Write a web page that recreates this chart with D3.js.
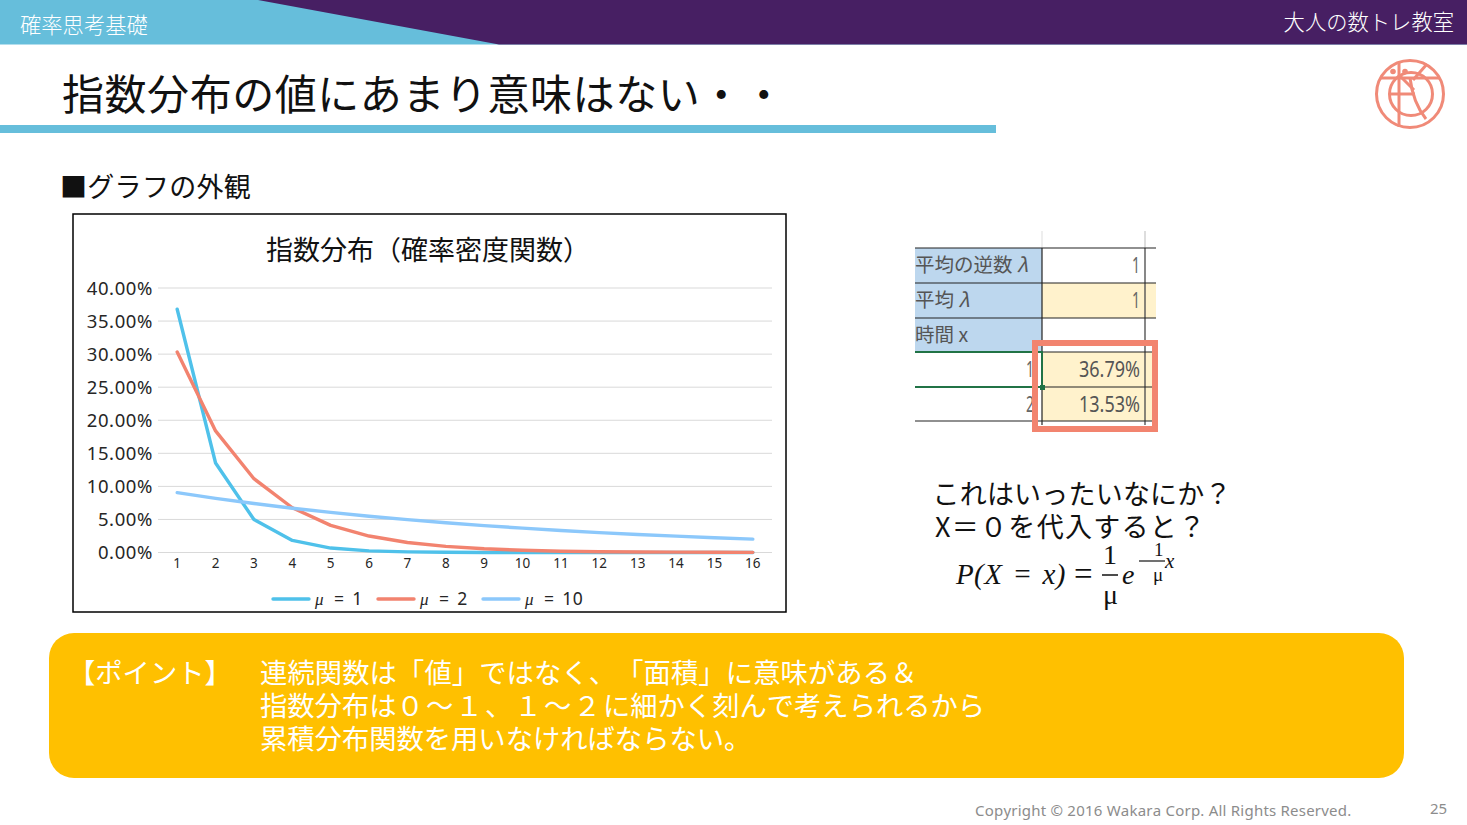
<!DOCTYPE html>
<html lang="ja">
<head>
<meta charset="utf-8">
<title>指数分布の値にあまり意味はない</title>
<script src="https://cdn.jsdelivr.net/npm/d3@7/dist/d3.min.js"></script>
<style>
html,body{margin:0;padding:0;background:#fff;overflow:hidden}
svg{display:block}
text{font-family:"Noto Sans CJK JP","Noto Sans",sans-serif;text-spacing-trim:space-all;font-kerning:none}
.axis path,.axis line{display:none}
</style>
</head>
<body>
<svg id="slide" width="1467" height="825"></svg>
<script>
// Chart data: density in percent per time step
const steps = d3.range(1, 17);
const muOne = [36.79,13.53,4.98,1.83,0.67,0.25,0.09,0.03,0.01,0.00,0.00,0.00,0.00,0.00,0.00,0.00];
const muTwo = [30.33,18.39,11.16,6.77,4.10,2.49,1.51,0.92,0.56,0.34,0.20,0.12,0.07,0.05,0.03,0.02];
const muTen = [9.05,8.19,7.41,6.70,6.07,5.49,4.97,4.49,4.07,3.68,3.33,3.01,2.73,2.47,2.23,2.02];
const seriesNames = ["= 1", "= 2", "= 10"];
const seriesColors = ["#4fc1ea", "#f2836f", "#8cc8fb"];
const yTicks = [0,5,10,15,20,25,30,35,40];

const ink = "#111", teal = "#66bedb", purple = "#471f63", salmon = "#f08a78", gold = "#ffc000";
const latin = '"Noto Sans",sans-serif';
const svg = d3.select("#slide");

function label(parent, x, y, str, size, fill, anchor) {
  return parent.append("text").attr("x", x).attr("y", y).attr("font-size", size)
    .attr("fill", fill || ink).attr("text-anchor", anchor || "start").text(str);
}
const poly = pts => "M" + pts.map(p => p.join(",")).join("L") + "Z";

// Header band and title rule
svg.append("rect").attr("width", 1467).attr("height", 44.5).attr("fill", teal);
svg.append("path").attr("d", poly([[258,0],[1467,0],[1467,44.5],[499,44.5]])).attr("fill", purple);
svg.append("rect").attr("y", 125).attr("width", 996).attr("height", 8).attr("fill", teal);
label(svg, 20, 33, "確率思考基礎", 21.3, "#fff").attr("font-weight", 300);
label(svg, 1454, 30, "大人の数トレ教室", 21.3, "#fff", "end").attr("font-weight", 300);
label(svg, 62, 110, "指数分布の値にあまり意味はない・・", 42).attr("letter-spacing", 0.55);
label(svg, 60, 197, "■グラフの外観", 27).attr("letter-spacing", 0.3);

// Logo mark
const logo = svg.append("g").attr("fill", "none").attr("stroke", salmon).attr("stroke-width", 3);
logo.append("circle").attr("cx", 1410).attr("cy", 94).attr("r", 33.5);
logo.append("circle").attr("cx", 1411).attr("cy", 94).attr("r", 21.5);
[[1399,62,1399,127],[1380,78,1440,78],[1390,94,1415,94],[1427,64,1413,80],[1400,76,1414,90]].forEach(s =>
  logo.append("line").attr("x1", s[0]).attr("y1", s[1]).attr("x2", s[2]).attr("y2", s[3]));
logo.append("path").attr("d", "M1410,78Q1413,103,1426,119");
[1393,1405].forEach(cx =>
  svg.append("circle").attr("cx", cx).attr("cy", 71.5).attr("r", 2.8).attr("fill", salmon));

// Chart frame
svg.append("rect").attr("x", 73).attr("y", 214).attr("width", 713).attr("height", 398)
  .attr("fill", "#fff").attr("stroke", "#000").attr("stroke-width", 1.5);
label(svg, 266, 260, "指数分布（確率密度関数）", 27);

const x = d3.scaleBand().domain(steps).range([158, 772]);
const y = d3.scaleLinear().domain([0, 40]).range([552.5, 288]);

svg.append("g").selectAll("line").data(yTicks).join("line")
  .attr("x1", 158).attr("x2", 772)
  .attr("y1", d => y(d)).attr("y2", d => y(d))
  .attr("stroke", "#d9d9d9").attr("stroke-width", 1);

const yAxis = svg.append("g").attr("class", "axis").attr("transform", "translate(158,0)")
  .call(d3.axisLeft(y).tickValues(yTicks).tickSize(0).tickPadding(5).tickFormat(d => d3.format(".2f")(d) + "%"));
yAxis.selectAll("text").attr("font-size", 18.5).attr("fill", "#262626").attr("letter-spacing", 0.6)
  .attr("dy", "0.33em").style("font-family", latin);
const xAxis = svg.append("g").attr("class", "axis").attr("transform", "translate(0,552.5)")
  .call(d3.axisBottom(x).tickSize(0).tickPadding(6));
xAxis.selectAll("text").attr("font-size", 13.5).attr("fill", "#262626").style("font-family", latin);

const line = d3.line().x((d, i) => x(steps[i]) + x.bandwidth() / 2).y(d => y(d));
[muOne, muTwo, muTen].forEach((values, i) => {
  svg.append("path").attr("d", line(values)).attr("fill", "none")
    .attr("stroke", seriesColors[i]).attr("stroke-width", 3.4)
    .attr("stroke-linecap", "round").attr("stroke-linejoin", "round");
});

// Legend
[273, 378, 483].forEach((lx, i) => {
  svg.append("line").attr("x1", lx).attr("x2", lx + 36).attr("y1", 599).attr("y2", 599)
    .attr("stroke", seriesColors[i]).attr("stroke-width", 3.4).attr("stroke-linecap", "round");
  label(svg, lx + 42, 605, "μ", 17, "#262626")
    .style("font-family", '"Liberation Serif",serif').attr("font-style", "italic");
  label(svg, lx + 61, 604.5, seriesNames[i], 17.5, "#262626")
    .style("font-family", latin).attr("word-spacing", 3).attr("letter-spacing", 0.4);
});

// Spreadsheet excerpt
const sheetRows = [248, 283, 318, 352, 387, 421];
const sheetLabels = [["平均の逆数 ", "λ"], ["平均 ", "λ"], ["時間 ", "x"]];
const sheetInputs = ["1", "1"];
const sheetPercents = ["36.79%", "13.53%"];
const sheetSteps = ["1", "2"];
const sheet = svg.append("g");
sheet.append("rect").attr("x", 915).attr("y", 248).attr("width", 127).attr("height", 104).attr("fill", "#bdd7ee");
sheet.append("rect").attr("x", 1042).attr("y", 283).attr("width", 114).attr("height", 35).attr("fill", "#fff2cc");
sheet.append("rect").attr("x", 1042).attr("y", 352).attr("width", 114).attr("height", 69).attr("fill", "#fff2cc");
sheet.append("line").attr("x1", 1042).attr("x2", 1042).attr("y1", 231).attr("y2", 248).attr("stroke", "#ddd");
sheet.append("line").attr("x1", 1145).attr("x2", 1145).attr("y1", 231).attr("y2", 248).attr("stroke", "#ddd").attr("stroke-width", 2);
sheet.append("line").attr("x1", 1042).attr("x2", 1042).attr("y1", 248).attr("y2", 425).attr("stroke", "#222").attr("stroke-width", 1.2);
sheet.append("line").attr("x1", 1145).attr("x2", 1145).attr("y1", 248).attr("y2", 425).attr("stroke", "#555").attr("stroke-width", 1.4);
sheetRows.forEach(ry => sheet.append("line").attr("x1", 915).attr("x2", 1156)
  .attr("y1", ry).attr("y2", ry).attr("stroke", "#222").attr("stroke-width", 1.2));
sheetLabels.forEach((t, i) => {
  const row = label(sheet, 915, sheetRows[i] + 24, t[0], 19.5, "#555");
  row.append("tspan").attr("font-style", i < 2 ? "italic" : "normal").text(t[1]);
});
const condensed = (sel, width) => sel.style("font-family", latin)
  .attr("textLength", width).attr("lengthAdjust", "spacingAndGlyphs");
sheetInputs.forEach((t, i) => condensed(label(sheet, 1140, sheetRows[i] + 25, t, 21, "#666", "end"), 8));
sheetSteps.forEach((t, i) => condensed(label(sheet, 1034, sheetRows[i + 3] + 25, t, 21, "#666", "end"), 8));
sheetPercents.forEach((t, i) => condensed(label(sheet, 1140, sheetRows[i + 3] + 25, t, 21, "#555", "end"), 61));
sheet.append("path").attr("d", "M915,352H1042V387M915,387H1042").attr("fill", "none")
  .attr("stroke", "#217346").attr("stroke-width", 2);
sheet.append("rect").attr("x", 1040).attr("y", 385).attr("width", 5).attr("height", 5).attr("fill", "#217346");
sheet.append("rect").attr("x", 1035).attr("y", 343).attr("width", 120).attr("height", 86)
  .attr("fill", "none").attr("stroke", "#f2846f").attr("stroke-width", 6);

// Question text and formula
label(svg, 932.5, 504, "これはいったいなにか？", 27).attr("letter-spacing", 0.2);
label(svg, 935, 537, "X＝０を代入すると？", 27).attr("letter-spacing", 1.3);
const serif = '"Liberation Serif","DejaVu Serif",serif';
const math = (px, py, str, size, italic) => label(svg, px, py, str, size)
  .style("font-family", serif).attr("font-style", italic ? "italic" : "normal");
math(956, 584, "P(X = x)", 29, true).attr("word-spacing", 2.5).attr("letter-spacing", 0.4);
math(1074, 585, "=", 33, false);
math(1103, 564, "1", 28);
svg.append("line").attr("x1", 1102).attr("x2", 1118).attr("y1", 575).attr("y2", 575).attr("stroke", ink).attr("stroke-width", 1.5);
math(1103, 604, "μ", 28);
math(1122, 584, "e", 28, true);
svg.append("line").attr("x1", 1139).attr("x2", 1165).attr("y1", 561).attr("y2", 561).attr("stroke", ink).attr("stroke-width", 1.2);
math(1154, 556, "1", 19);
math(1153, 581, "μ", 19);
math(1165, 568, "x", 21, true);

// Key point callout
svg.append("rect").attr("x", 49).attr("y", 633).attr("width", 1355).attr("height", 145).attr("rx", 25).attr("fill", gold);
label(svg, 68, 683, "【ポイント】", 27.3, "#fff");
label(svg, 260, 683, "連続関数は「値」ではなく、「面積」に意味がある＆", 27.3, "#fff").attr("letter-spacing", 0.1);
const second = label(svg, 260, 716, "指数分布は", 27.3, "#fff");
second.append("tspan").attr("letter-spacing", 2.2).text("０～１、１～２");
second.append("tspan").text("に細かく刻んで考えられるから");
label(svg, 260, 749, "累積分布関数を用いなければならない。", 27.3, "#fff");

// Footer
label(svg, 975, 816, "Copyright © 2016 Wakara Corp. All Rights Reserved.", 15, "#8c8c8c")
  .style("font-family", latin).attr("letter-spacing", 0.22);
label(svg, 1430, 814, "25", 15, "#8c8c8c").style("font-family", latin);
</script>
</body>
</html>
